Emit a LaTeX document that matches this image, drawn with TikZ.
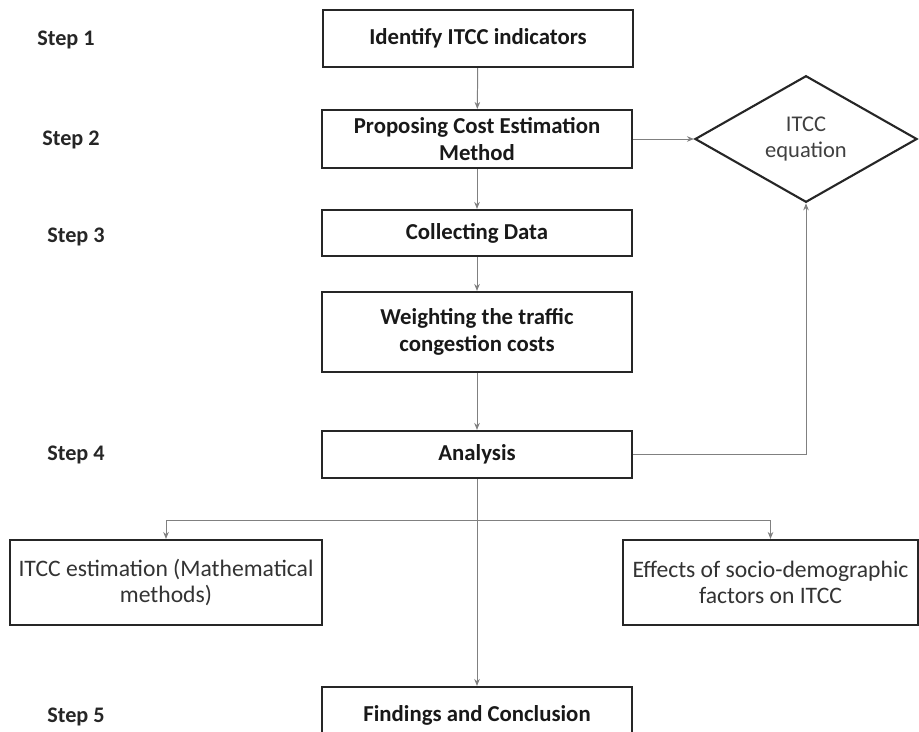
\documentclass[tikz,border=0pt]{standalone}
\usepackage{fontspec}
\setmainfont{Carlito}
\usetikzlibrary{shapes.geometric,arrows.meta}
\begin{document}
\begin{tikzpicture}[x=0.025cm,y=-0.025cm,
  stepbox/.style={draw=black!85,line width=1.5pt,fill=white,align=center,inner sep=2pt,
    font=\fontsize{16.2}{19}\selectfont\bfseries,text=black!90,minimum width=7.75cm},
  sidebox/.style={draw=black!85,line width=1.5pt,fill=white,align=center,inner sep=2pt,
    font=\fontsize{16.8}{19}\selectfont,text=black!80,minimum height=2.125cm},
  steplabel/.style={font=\fontsize{15.8}{19}\selectfont\bfseries,text=black!85},
  conn/.style={draw=black!50,line width=0.7pt,-{Stealth[length=5pt,width=4pt]}}]

\useasboundingbox (0,0) rectangle (919,731);
\clip (0,0) rectangle (919,731);

% step labels
\node[steplabel] (s1) at (66,40) {Step 1};
\node[steplabel] (s2) at (71,140) {Step 2};
\node[steplabel] (s3) at (76,237) {Step 3};
\node[steplabel] (s4) at (76,455) {Step 4};
\node[steplabel] (s5) at (76,717) {Step 5};

% main column
\node[stepbox,minimum height=1.425cm] (ident) at (478,38.5) {Identify ITCC indicators};
\node[stepbox,minimum height=1.45cm] (prop) at (477,139) {Proposing Cost Estimation\\Method};
\node[stepbox,minimum height=1.15cm] (coll) at (477,233) {Collecting Data};
\node[stepbox,minimum height=2cm] (weight) at (477,332) {Weighting the traffic\\congestion costs};
\node[stepbox,minimum height=1.175cm] (ana) at (477,454.5) {Analysis};
\node[stepbox,minimum height=1.4cm] (fin) at (477,715) {Findings and Conclusion};

% equation
\node[diamond,draw=black!85,line width=1.5pt,fill=white,inner sep=0pt,align=center,
  minimum width=5.55cm,minimum height=2.1cm,
  font=\fontsize{16}{19}\selectfont,text=black!75] (eq) at (806,139) {ITCC\\equation};

% side boxes
\node[sidebox,minimum width=7.8cm] (est) at (166,582.5) {ITCC estimation (Mathematical\\methods)};
\node[sidebox,minimum width=7.375cm] (eff) at (770.5,582.5) {Effects of socio-demographic\\factors on ITCC};

\coordinate (split) at (477,520);

\draw[conn] (ident) -- (prop);
\draw[conn] (prop) -- (coll);
\draw[conn] (coll) -- (weight);
\draw[conn] (weight) -- (ana);
\draw[conn] (prop) -- (eq);
\draw[conn] (ana.east) -| (eq.south);
\draw[conn] (ana) -- (fin);
\draw[conn] (split) -| (est.north);
\draw[conn] (split) -| (eff.north);
\end{tikzpicture}
\end{document}
